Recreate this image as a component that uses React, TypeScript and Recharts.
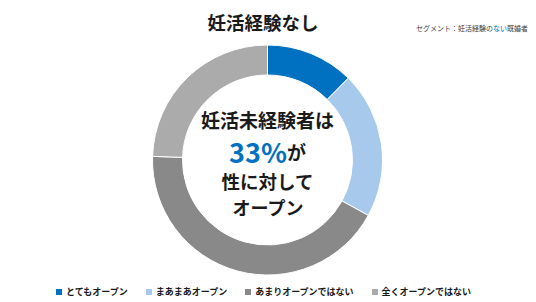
import React from "react";
import { PieChart, Pie, Cell } from "recharts";

// 妊活経験なしの既婚者：性に対するオープン度（読み取り値）
const categories = ["とてもオープン", "まあまあオープン", "あまりオープンではない", "全くオープンではない"];
const shares = [12.4, 20.6, 42.5, 24.5];
const colors = ["#0070C0", "#A6C9EC", "#898989", "#ABABAB"];

const data = categories.map((name, i) => ({ name, value: shares[i] }));

const FONT = '"Noto Sans CJK JP", "Noto Sans", sans-serif';

function LegendRow() {
  return (
    <div
      style={{
        position: "absolute",
        left: 0,
        top: 285,
        width: 527,
        display: "flex",
        justifyContent: "center",
        gap: 18,
        fontFamily: FONT,
        fontSize: 9,
        fontWeight: 700,
        color: "#1a1a1a",
        lineHeight: "13px",
      }}
    >
      {categories.map((c, i) => (
        <span key={c} style={{ display: "flex", alignItems: "center" }}>
          <span style={{ width: 6, height: 6, background: colors[i], marginRight: 4 }} />
          {c}
        </span>
      ))}
    </div>
  );
}

export default function App() {
  return (
    <div style={{ position: "absolute", left: 0, top: 0, width: 536, height: 302, background: "#fff" }}>
      <PieChart width={536} height={302} margin={{ top: 0, right: 0, bottom: 0, left: 0 }}>
        <Pie
          data={data}
          dataKey="value"
          nameKey="name"
          cx={267.5}
          cy={160}
          innerRadius={85}
          outerRadius={115}
          startAngle={90}
          endAngle={-270}
          stroke="#fff"
          strokeWidth={1}
          isAnimationActive={false}
        >
          {data.map((d, i) => (
            <Cell key={d.name} fill={colors[i]} />
          ))}
        </Pie>
      </PieChart>
      <LegendRow />
      <svg
        width={536}
        height={302}
        style={{ position: "absolute", left: 0, top: 0, pointerEvents: "none" }}
        fontFamily={FONT}
      >
        <text x={263} y={22} textAnchor="middle" dominantBaseline="central" fontSize={18.5} fontWeight={700} fill="#1a1a1a">
          妊活経験なし
        </text>
        <text x={528} y={28} textAnchor="end" dominantBaseline="central" fontSize={7} fill="#404040">
          セグメント：妊活経験の<tspan fill="#0070C0">ない</tspan>既婚者
        </text>
        <text x={267.5} y={119} textAnchor="middle" dominantBaseline="central" fontSize={19} fontWeight={700} fill="#1a1a1a">
          妊活未経験者は
        </text>
        <text x={267.5} y={151} textAnchor="middle" dominantBaseline="central" fontWeight={700}>
          <tspan fontSize={27} fill="#0070C0">33%</tspan>
          <tspan fontSize={19} fill="#1a1a1a">が</tspan>
        </text>
        <text x={267.5} y={181} textAnchor="middle" dominantBaseline="central" fontSize={18.5} fontWeight={700} fill="#1a1a1a">
          性に対して
        </text>
        <text x={268} y={207} textAnchor="middle" dominantBaseline="central" fontSize={18} fontWeight={700} fill="#1a1a1a">
          オープン
        </text>
      </svg>
    </div>
  );
}
